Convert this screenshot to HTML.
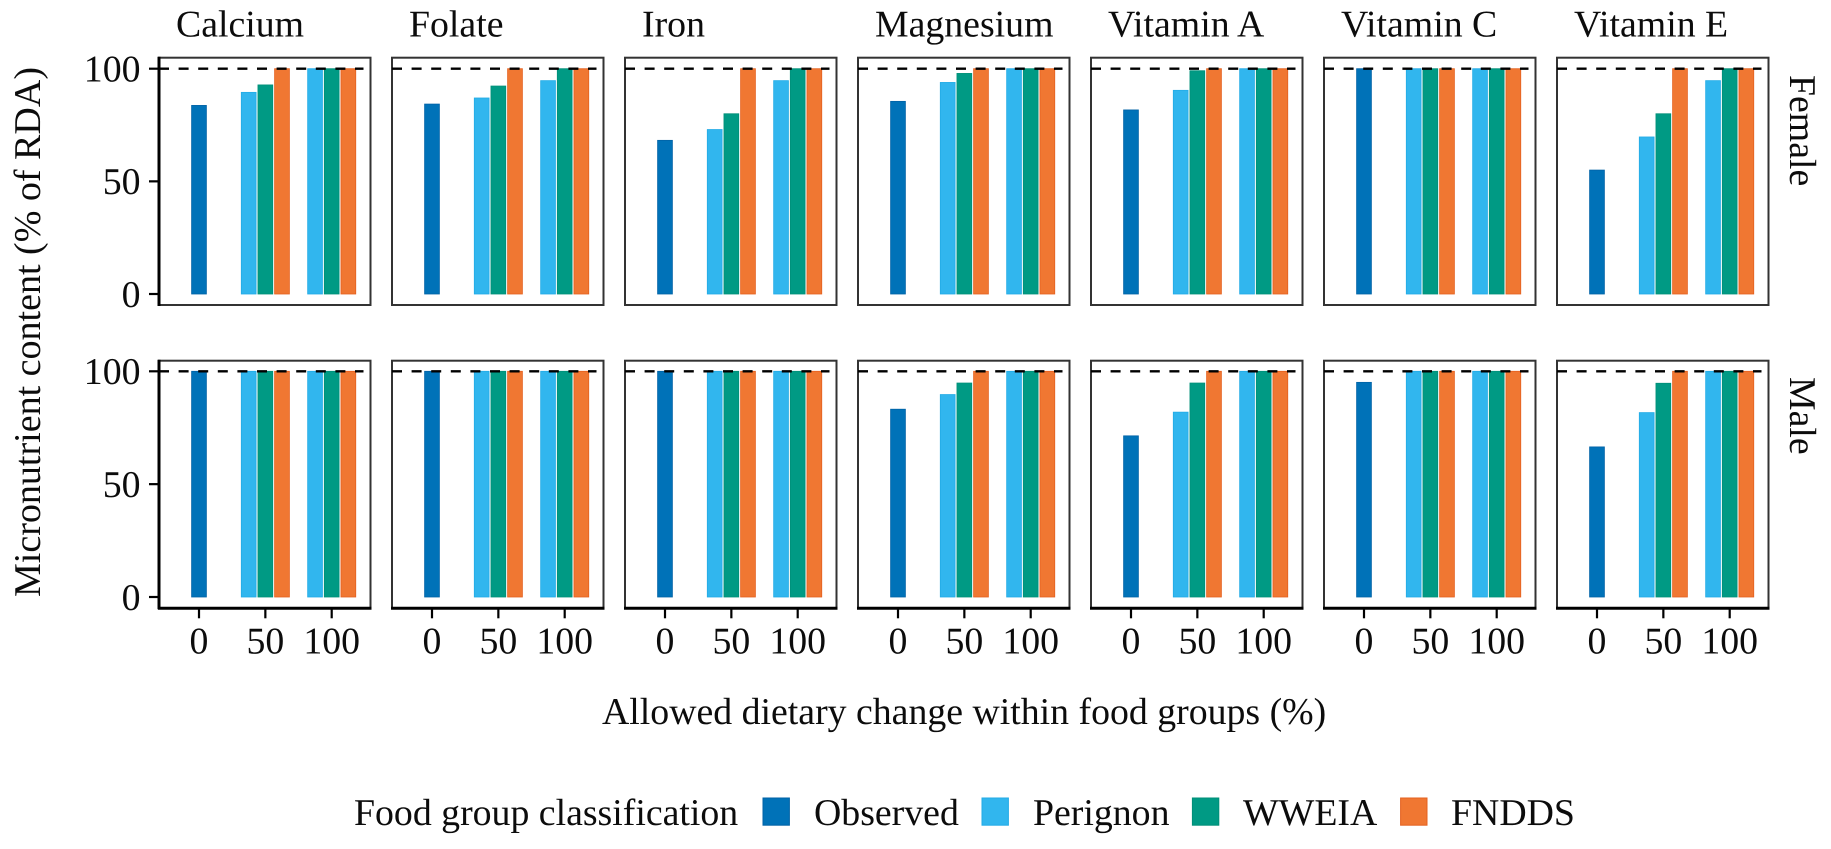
<!DOCTYPE html>
<html lang="en">
<head>
<meta charset="utf-8">
<title>Micronutrient content by allowed dietary change</title>
<style>
html,body{margin:0;padding:0;background:#fff;}
svg{display:block;}
text{font-family:"Liberation Serif",serif;font-size:37.8px;fill:#0c0c0c;text-rendering:geometricPrecision;}
</style>
</head>
<body>
<svg id="chart" xmlns="http://www.w3.org/2000/svg" width="1831" height="849" viewBox="0 0 1831 849">
  <rect x="0" y="0" width="1831" height="849" fill="#fff"/>
  <g id="panels"></g>
  <text transform="translate(40,597) rotate(-90)" textLength="530" lengthAdjust="spacingAndGlyphs">Micronutrient content (% of RDA)</text>
  <text x="602" y="724">Allowed dietary change within food groups (%)</text>
  <text transform="translate(1790,75) rotate(90)">Female</text>
  <text transform="translate(1790,377) rotate(90)">Male</text>
  <g>
    <text x="354" y="825">Food group classification</text>
    <rect x="763" y="798" width="26.4" height="27.2" fill="#0072B8" stroke="#0062A6" stroke-width="1"/>
    <text x="814" y="825">Observed</text>
    <rect x="982" y="798" width="26.4" height="27.2" fill="#31B6EE" stroke="#22ABE6" stroke-width="1"/>
    <text x="1033" y="825">Perignon</text>
    <rect x="1192.4" y="798" width="26.4" height="27.2" fill="#009A84" stroke="#008F78" stroke-width="1"/>
    <text x="1243" y="825">WWEIA</text>
    <rect x="1400.6" y="798" width="26.4" height="27.2" fill="#F07732" stroke="#E4601E" stroke-width="1"/>
    <text x="1451" y="825">FNDDS</text>
  </g>
</svg>
<script>
// Chart data
const nutrients = ['Calcium', 'Folate', 'Iron', 'Magnesium', 'Vitamin A', 'Vitamin C', 'Vitamin E'];
const sexes = ['Female', 'Male'];
const xTickLabels = [0, 50, 100];
const yTickLabels = [0, 50, 100];
const referenceLevel = [100];

const femaleObserved0 = [83.7, 84.3, 68.2, 85.5, 81.7, 100, 55];
const femalePerignon50 = [89.5, 87, 73, 93.9, 90.4, 100, 69.7];
const femaleWweia50 = [92.8, 92.3, 80, 97.9, 99.1, 100, 80];
const femaleFndds50 = [100, 100, 100, 100, 100, 100, 100];
const femalePerignon100 = [100, 94.7, 94.7, 100, 100, 100, 94.7];
const femaleWweia100 = [100, 100, 100, 100, 100, 100, 100];
const femaleFndds100 = [100, 100, 100, 100, 100, 100, 100];

const maleObserved0 = [100, 100, 100, 83.2, 71.4, 95.1, 66.5];
const malePerignon50 = [100, 100, 100, 89.7, 81.9, 100, 81.7];
const maleWweia50 = [100, 100, 100, 94.8, 94.8, 100, 94.7];
const maleFndds50 = [100, 100, 100, 100, 100, 100, 100];
const malePerignon100 = [100, 100, 100, 100, 100, 100, 100];
const maleWweia100 = [100, 100, 100, 100, 100, 100, 100];
const maleFndds100 = [100, 100, 100, 100, 100, 100, 100];

// Layout
const NS = 'http://www.w3.org/2000/svg';
const root = document.getElementById('panels');
const panelLeft0 = 159, panelStep = 233, panelWidth = 211.5;
const rowTop = [57.7, 360.7], rowBottom = [305, 608.3];
const rowY0 = [294, 597], rowY100 = [68.7, 371.3];
const barWidth = 14.8, dodgeStep = 16.65;
const seriesStyle = {
  observed: { fill: '#0072B8', stroke: '#0062A6' },
  perignon: { fill: '#31B6EE', stroke: '#22ABE6' },
  wweia: { fill: '#009A84', stroke: '#008F78' },
  fndds: { fill: '#F07732', stroke: '#E4601E' }
};

function xScale(panel, level) {
  return panelLeft0 + panel * panelStep + 40 + level * 1.327;
}
function yScale(row, value) {
  return rowY0[row] + (rowY100[row] - rowY0[row]) * value / 100;
}
function make(tag, attrs, parent) {
  const node = document.createElementNS(NS, tag);
  Object.keys(attrs).forEach(function (k) { node.setAttribute(k, attrs[k]); });
  parent.appendChild(node);
  return node;
}

function drawBar(group, panel, row, level, offset, value, series) {
  const cx = xScale(panel, level) + offset * dodgeStep;
  const top = yScale(row, value);
  const base = yScale(row, 0);
  const style = seriesStyle[series];
  const bar = make('rect', {
    x: cx - barWidth / 2, y: top, width: barWidth, height: base - top,
    fill: style.fill, stroke: style.stroke, 'stroke-width': 0.8
  }, group);
  
  
}

sexes.forEach(function (sex, row) {
  const isF = row === 0;
  const obs = isF ? femaleObserved0 : maleObserved0;
  const p50 = isF ? femalePerignon50 : malePerignon50;
  const w50 = isF ? femaleWweia50 : maleWweia50;
  const f50 = isF ? femaleFndds50 : maleFndds50;
  const p100 = isF ? femalePerignon100 : malePerignon100;
  const w100 = isF ? femaleWweia100 : maleWweia100;
  const f100 = isF ? femaleFndds100 : maleFndds100;

  nutrients.forEach(function (nutrient, p) {
    const left = panelLeft0 + p * panelStep;
    const top = rowTop[row], bottom = rowBottom[row];
    const g = make('g', {}, root);
    
    

    drawBar(g, p, row, xTickLabels[0], 0, obs[p], 'observed');
    drawBar(g, p, row, xTickLabels[1], -1, p50[p], 'perignon');
    drawBar(g, p, row, xTickLabels[1], 0, w50[p], 'wweia');
    drawBar(g, p, row, xTickLabels[1], 1, f50[p], 'fndds');
    drawBar(g, p, row, xTickLabels[2], -1, p100[p], 'perignon');
    drawBar(g, p, row, xTickLabels[2], 0, w100[p], 'wweia');
    drawBar(g, p, row, xTickLabels[2], 1, f100[p], 'fndds');

    const frame = make('rect', {
      x: left, y: top, width: panelWidth, height: bottom - top,
      fill: 'none', stroke: '#333', 'stroke-width': 2
    }, g);
    
    

    const refLine = make('line', {
      x1: left, x2: left + 204.5, y1: yScale(row, referenceLevel[0]), y2: yScale(row, referenceLevel[0]),
      stroke: '#000', 'stroke-width': 2.4, 'stroke-dasharray': '10 9.6'
    }, g);
    
    

    if (row === 0) {
      const title = make('text', { x: left + 17, y: 36.7 }, root);
      title.textContent = nutrient;
      
      
    }

    if (p === 0) {
      const yAxis = make('line', { x1: left, x2: left, y1: top - 1, y2: bottom + 1, stroke: '#000', 'stroke-width': 3 }, g);
      
      
      yTickLabels.forEach(function (t) {
        const y = yScale(row, t);
        const tick = make('line', { x1: left - 10, x2: left, y1: y, y2: y, stroke: '#000', 'stroke-width': 2.2 }, g);
        
        
        const label = make('text', { x: left - 18.5, y: y + 12.8, 'text-anchor': 'end' }, g);
        label.textContent = t;
        
        
      });
    }

    if (row === 1) {
      const xAxis = make('line', { x1: left - 1, x2: left + panelWidth + 1, y1: bottom, y2: bottom, stroke: '#000', 'stroke-width': 3 }, g);
      
      
      xTickLabels.forEach(function (t) {
        const x = xScale(p, t);
        const tick = make('line', { x1: x, x2: x, y1: bottom, y2: bottom + 10, stroke: '#000', 'stroke-width': 2.2 }, g);
        
        
        const label = make('text', { x: x, y: 653.3, 'text-anchor': 'middle' }, g);
        label.textContent = t;
        
        
      });
    }
  });
});
</script>
</body>
</html>
